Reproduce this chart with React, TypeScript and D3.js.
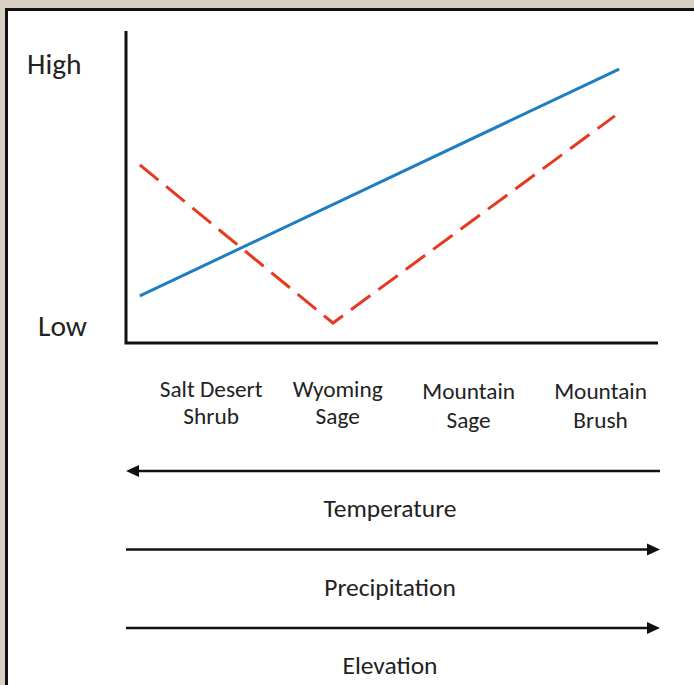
import * as d3 from 'd3'

// gradient position along the site sequence (0–100) and relative level (0–100)
const blueX = [2.6, 92.7]
const blueY = [15.1, 87.8]
const redX = [2.6, 38.9, 91.9]
const redY = [57.1, 6.4, 72.8]

const catLines = [['Salt Desert', 'Shrub'], ['Wyoming', 'Sage'], ['Mountain', 'Sage'], ['Mountain', 'Brush']]
const catPos = [16.0, 39.8, 64.4, 89.2]

const levelLabels = ['Low', 'High']
const levelPos = [5.5, 89.4]

const drivers = ['Temperature', 'Precipitation', 'Elevation']
const driverDir = [-1, 1, 1]

const W = 694
const H = 685
const FONT = 'Carlito, Lato, "Open Sans", sans-serif'

export default function App() {
  const x = d3.scaleLinear().domain([0, 100]).range([126, 658])
  const y = d3.scaleLinear().domain([0, 100]).range([343, 31])

  const line = d3.line<[number, number]>().x(d => x(d[0])).y(d => y(d[1]))
  const blue = line(blueX.map((v, i) => [v, blueY[i]] as [number, number])) ?? ''
  const red = line(redX.map((v, i) => [v, redY[i]] as [number, number])) ?? ''

  const rowY = (i: number) => 471 + i * 78.5
  const arrowL = x(0)
  const arrowR = x(100) + 2
  const head = 13
  const levelX = [38, 27]

  return (
    <svg width={W} height={H} style={{ position: 'absolute', left: 0, top: 0 }} fontFamily={FONT}>
      <rect width={W} height={H} fill="#d8d0c2" />
      <rect x={6.5} y={9.5} width={W} height={H} fill="#fff" stroke="#111" strokeWidth={3} />

      {/* axes */}
      <path d={`M${x(0)},${y(100)}V${y(0)}H${x(100)}`} fill="none" stroke="#111" strokeWidth={3} />

      {levelLabels.map((t, i) => (
        <text key={t} x={levelX[i]} y={y(levelPos[i])} dy="0.35em" fontSize={29.5} fill="#222">{t}</text>
      ))}

      <path d={blue} fill="none" stroke="#1f7dc2" strokeWidth={3} />
      <path d={red} fill="none" stroke="#e53a1f" strokeWidth={3} strokeDasharray="24 10" />

      {catLines.map((lines, i) => (
        <text key={i} x={x(catPos[i])} y={i < 2 ? 397 : 399} textAnchor="middle" fontSize={23.3} fill="#222">
          {lines.map((l, j) => (
            <tspan key={j} x={x(catPos[i])} dy={j === 0 ? 0 : i < 2 ? 27 : 29}>{l}</tspan>
          ))}
        </text>
      ))}

      {drivers.map((d, i) => {
        const yy = rowY(i)
        const tip = driverDir[i] < 0 ? arrowL : arrowR
        const base = tip - driverDir[i] * head
        return (
          <g key={d}>
            <line x1={driverDir[i] < 0 ? base : arrowL} x2={driverDir[i] < 0 ? arrowR : base}
              y1={yy} y2={yy} stroke="#111" strokeWidth={2.5} />
            <path d={`M${tip},${yy}L${base},${yy - 6}L${base},${yy + 6}Z`} fill="#111" />
            <text x={390} y={yy + 46} textAnchor="middle" fontSize={25.5} fill="#222">{d}</text>
          </g>
        )
      })}
    </svg>
  )
}
